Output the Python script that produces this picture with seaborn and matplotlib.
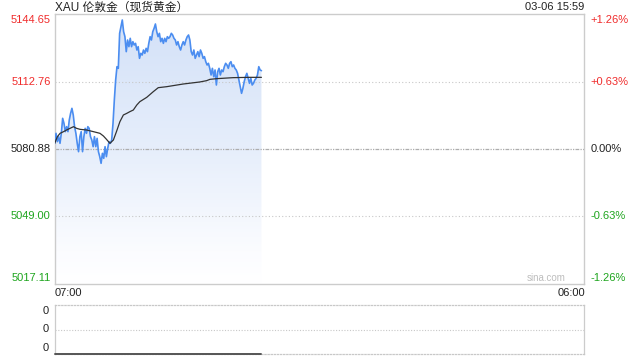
import numpy as np
import pandas as pd
import matplotlib
matplotlib.use("Agg")
import matplotlib.pyplot as plt
from matplotlib.colors import LinearSegmentedColormap
import seaborn as sns

# ---------------- data ----------------
title_text = "XAU 伦敦金（现货黄金）"
stamp_text = "03-06 15:59"
prev_close = 5080.88
y_ticks = [5144.65, 5112.76, 5080.88, 5049.00, 5017.11]
y_tick_labels = ["5144.65", "5112.76", "5080.88", "5049.00", "5017.11"]
pct_labels = ["+1.26%", "+0.63%", "0.00%", "-0.63%", "-1.26%"]
x_tick_labels = ["07:00", "06:00"]
session_minutes = 1380      # 07:00 -> 06:00 next day
last_minute = 539           # 15:59

price = [
    5083.56, 5088.28, 5084.34, 5086.71, 5083.56, 5088.28, 5095.37, 5093.00, 5089.07, 5091.43,
    5089.07, 5094.58, 5097.73, 5100.09, 5096.94, 5091.43, 5088.28, 5083.56, 5079.62, 5086.71,
    5089.07, 5079.62, 5086.71, 5090.64, 5088.28, 5091.43, 5090.64, 5086.71, 5085.13, 5081.98,
    5086.71, 5081.98, 5085.92, 5079.62, 5077.26, 5074.11, 5078.83, 5076.47, 5081.98, 5077.26,
    5081.20, 5084.34, 5083.56, 5085.13, 5093.00, 5104.03, 5113.47, 5119.77, 5118.98, 5135.52,
    5138.67, 5141.82, 5136.30, 5133.94, 5126.86, 5132.37, 5129.22, 5133.16, 5129.22, 5131.58,
    5130.01, 5130.79, 5127.64, 5129.22, 5123.71, 5126.07, 5125.28, 5127.64, 5126.07, 5128.43,
    5126.86, 5130.79, 5133.94, 5132.37, 5136.30, 5137.88, 5139.93, 5136.30, 5133.94, 5135.52,
    5131.58, 5133.16, 5130.79, 5133.16, 5131.58, 5133.94, 5133.16, 5133.94, 5135.52, 5134.73,
    5133.16, 5132.37, 5130.01, 5131.58, 5129.22, 5127.64, 5130.01, 5131.58, 5130.01, 5132.37,
    5133.94, 5134.73, 5132.37, 5126.86, 5125.28, 5127.64, 5123.71, 5125.28, 5126.86, 5124.50,
    5127.64, 5126.07, 5123.71, 5124.50, 5122.13, 5120.56, 5121.35, 5118.98, 5115.84, 5118.98,
    5115.05, 5118.20, 5111.11, 5117.41, 5118.98, 5115.84, 5118.20, 5117.41, 5119.77, 5121.35,
    5120.56, 5118.98, 5121.35, 5122.13, 5119.77, 5120.56, 5118.98, 5118.20, 5116.62, 5113.47,
    5110.32, 5107.18, 5109.54, 5112.69, 5115.05, 5116.62, 5114.26, 5111.90, 5114.26, 5111.11,
    5111.90, 5113.47, 5114.26, 5115.84, 5119.77, 5118.20, 5117.88,
]

avg_minutes = [0, 7, 14, 23, 31, 40, 49, 57, 66, 83, 101, 118, 127, 135, 144, 153, 161,
               170, 179, 188, 196, 205, 214, 222, 240, 257, 270, 292, 335, 378, 396, 405,
               422, 465, 509, 539]
avg_price = [5083.56, 5086.71, 5088.28, 5089.07, 5089.86, 5090.64, 5091.43, 5090.64,
             5090.17, 5089.86, 5089.07, 5088.28, 5087.02, 5085.45, 5083.56, 5085.13,
             5089.07, 5093.79, 5096.94, 5097.73, 5098.52, 5099.30, 5101.66, 5103.24,
             5105.29, 5107.96, 5109.85, 5110.32, 5111.58, 5112.53, 5113.16, 5113.79,
             5114.10, 5114.58, 5114.73, 5114.73]

volume = [0, 0]
volume_minutes = [0, last_minute]

# ---------------- style ----------------
sns.set_theme(style="white")
plt.rcParams["font.family"] = ["Liberation Sans", "Noto Sans CJK SC", "DejaVu Sans"]

RED = "#f02c2c"
GREEN = "#1ea51e"
BLACK = "#222222"
BORDER = "#cccccc"
LINE_BLUE = "#4b8df0"

fig = plt.figure(figsize=(6.4, 3.6), dpi=100)
W, H = 640.0, 360.0
L, R = 54.7, 584.0
ax = fig.add_axes([L / W, (H - 284) / H, (R - L) / W, 270 / H])
axv = fig.add_axes([L / W, (H - 354) / H, (R - L) / W, 49 / H])

ylo, yhi = y_ticks[-1], y_ticks[0]
times = np.linspace(0, last_minute, len(price))
df = pd.DataFrame({"t": times, "p": price})
dfa = pd.DataFrame({"t": avg_minutes, "a": avg_price})

ax.set_xlim(0, session_minutes)
ax.set_ylim(ylo, yhi)

# gradient fill under the price line
poly = ax.fill_between(df["t"], df["p"], ylo, facecolor="none", edgecolor="none")
cmap = LinearSegmentedColormap.from_list(
    "g", [(0.0, "#ffffff"), (0.12, "#fbfcff"), (0.5, "#e6eefb"), (1.0, "#d3e1f8")])
grad = np.linspace(0, 1, 256).reshape(-1, 1)
im = ax.imshow(grad, extent=[0, last_minute, ylo, yhi], origin="lower",
               aspect="auto", cmap=cmap, zorder=1)
im.set_clip_path(poly.get_paths()[0], transform=ax.transData)
ax.set_xlim(0, session_minutes)
ax.set_ylim(ylo, yhi)

# gridlines (drawn over the fill)
for v in [y_ticks[1], y_ticks[3]]:
    ax.axhline(v, color="#c8c8c8", lw=0.8, ls=(0, (1, 2)), zorder=2)
ax.axhline(prev_close, color="#adadad", lw=0.9, ls=(0, (3, 1, 1, 1, 1, 1)), zorder=2)

sns.lineplot(data=df, x="t", y="p", ax=ax, color=LINE_BLUE, lw=1.2, zorder=3)
sns.lineplot(data=dfa, x="t", y="a", ax=ax, color="#333333", lw=0.9, zorder=4)

ax.set_xlabel("")
ax.set_ylabel("")
ax.set_xticks([])
ax.set_yticks([])
for s in ax.spines.values():
    s.set_color(BORDER)
    s.set_linewidth(1.0)
    s.set_visible(True)

# axis labels (left prices / right percentages)
colors = [RED, RED, BLACK, GREEN, GREEN]
offs = [-4.5, 0, 0, 0, 4.5]
ytr = ax.get_yaxis_transform()
for v, lab, pl, c, dy in zip(y_ticks, y_tick_labels, pct_labels, colors, offs):
    ax.annotate(lab, (0, v), xycoords=ytr, xytext=(-3, dy), textcoords="offset points",
                ha="right", va="center", fontsize=8, color=c)
    ax.annotate(pl, (1, v), xycoords=ytr, xytext=(4.5, dy), textcoords="offset points",
                ha="left", va="center", fontsize=8, color=c)

ax.text(0, -0.032, x_tick_labels[0], transform=ax.transAxes, ha="left", va="center",
        fontsize=8, color=BLACK)
ax.text(1.003, -0.032, x_tick_labels[1], transform=ax.transAxes, ha="right", va="center",
        fontsize=8, color=BLACK)
ax.text(0.965, 0.022, "sina.com", transform=ax.transAxes, ha="right", va="center",
        fontsize=7, color="#bdbdbd")

fig.text(L / W, 1 - 7.5 / H, title_text, ha="left", va="center", fontsize=8.5, color=BLACK)
fig.text(R / W, 1 - 7.5 / H, stamp_text, ha="right", va="center", fontsize=8, color=BLACK)

# volume panel
axv.set_xlim(0, session_minutes)
axv.set_ylim(0, 1)
axv.axhline(0.5, color="#c8c8c8", lw=0.8, ls=(0, (1, 1.5)))
dfv = pd.DataFrame({"t": volume_minutes, "v": volume})
sns.lineplot(data=dfv, x="t", y="v", ax=axv, color="#555555", lw=1.4, zorder=4,
             clip_on=False)
axv.set_xlabel("")
axv.set_ylabel("")
axv.set_xticks([])
axv.set_yticks([])
for k in ["left", "right"]:
    axv.spines[k].set_color(BORDER)
    axv.spines[k].set_linewidth(0.9)
for k in ["top", "bottom"]:
    axv.spines[k].set_color("#c8c8c8")
    axv.spines[k].set_linewidth(0.9)
    axv.spines[k].set_linestyle((0, (1, 1.5)))
vtr = axv.get_yaxis_transform()
for yv, dy in [(1, -4.2), (0.5, 0), (0, 4.6)]:
    axv.annotate("0", (0, yv), xycoords=vtr, xytext=(-4, dy), textcoords="offset points",
                 ha="right", va="center", fontsize=8, color=BLACK)

fig.savefig("out.png", dpi=100)
